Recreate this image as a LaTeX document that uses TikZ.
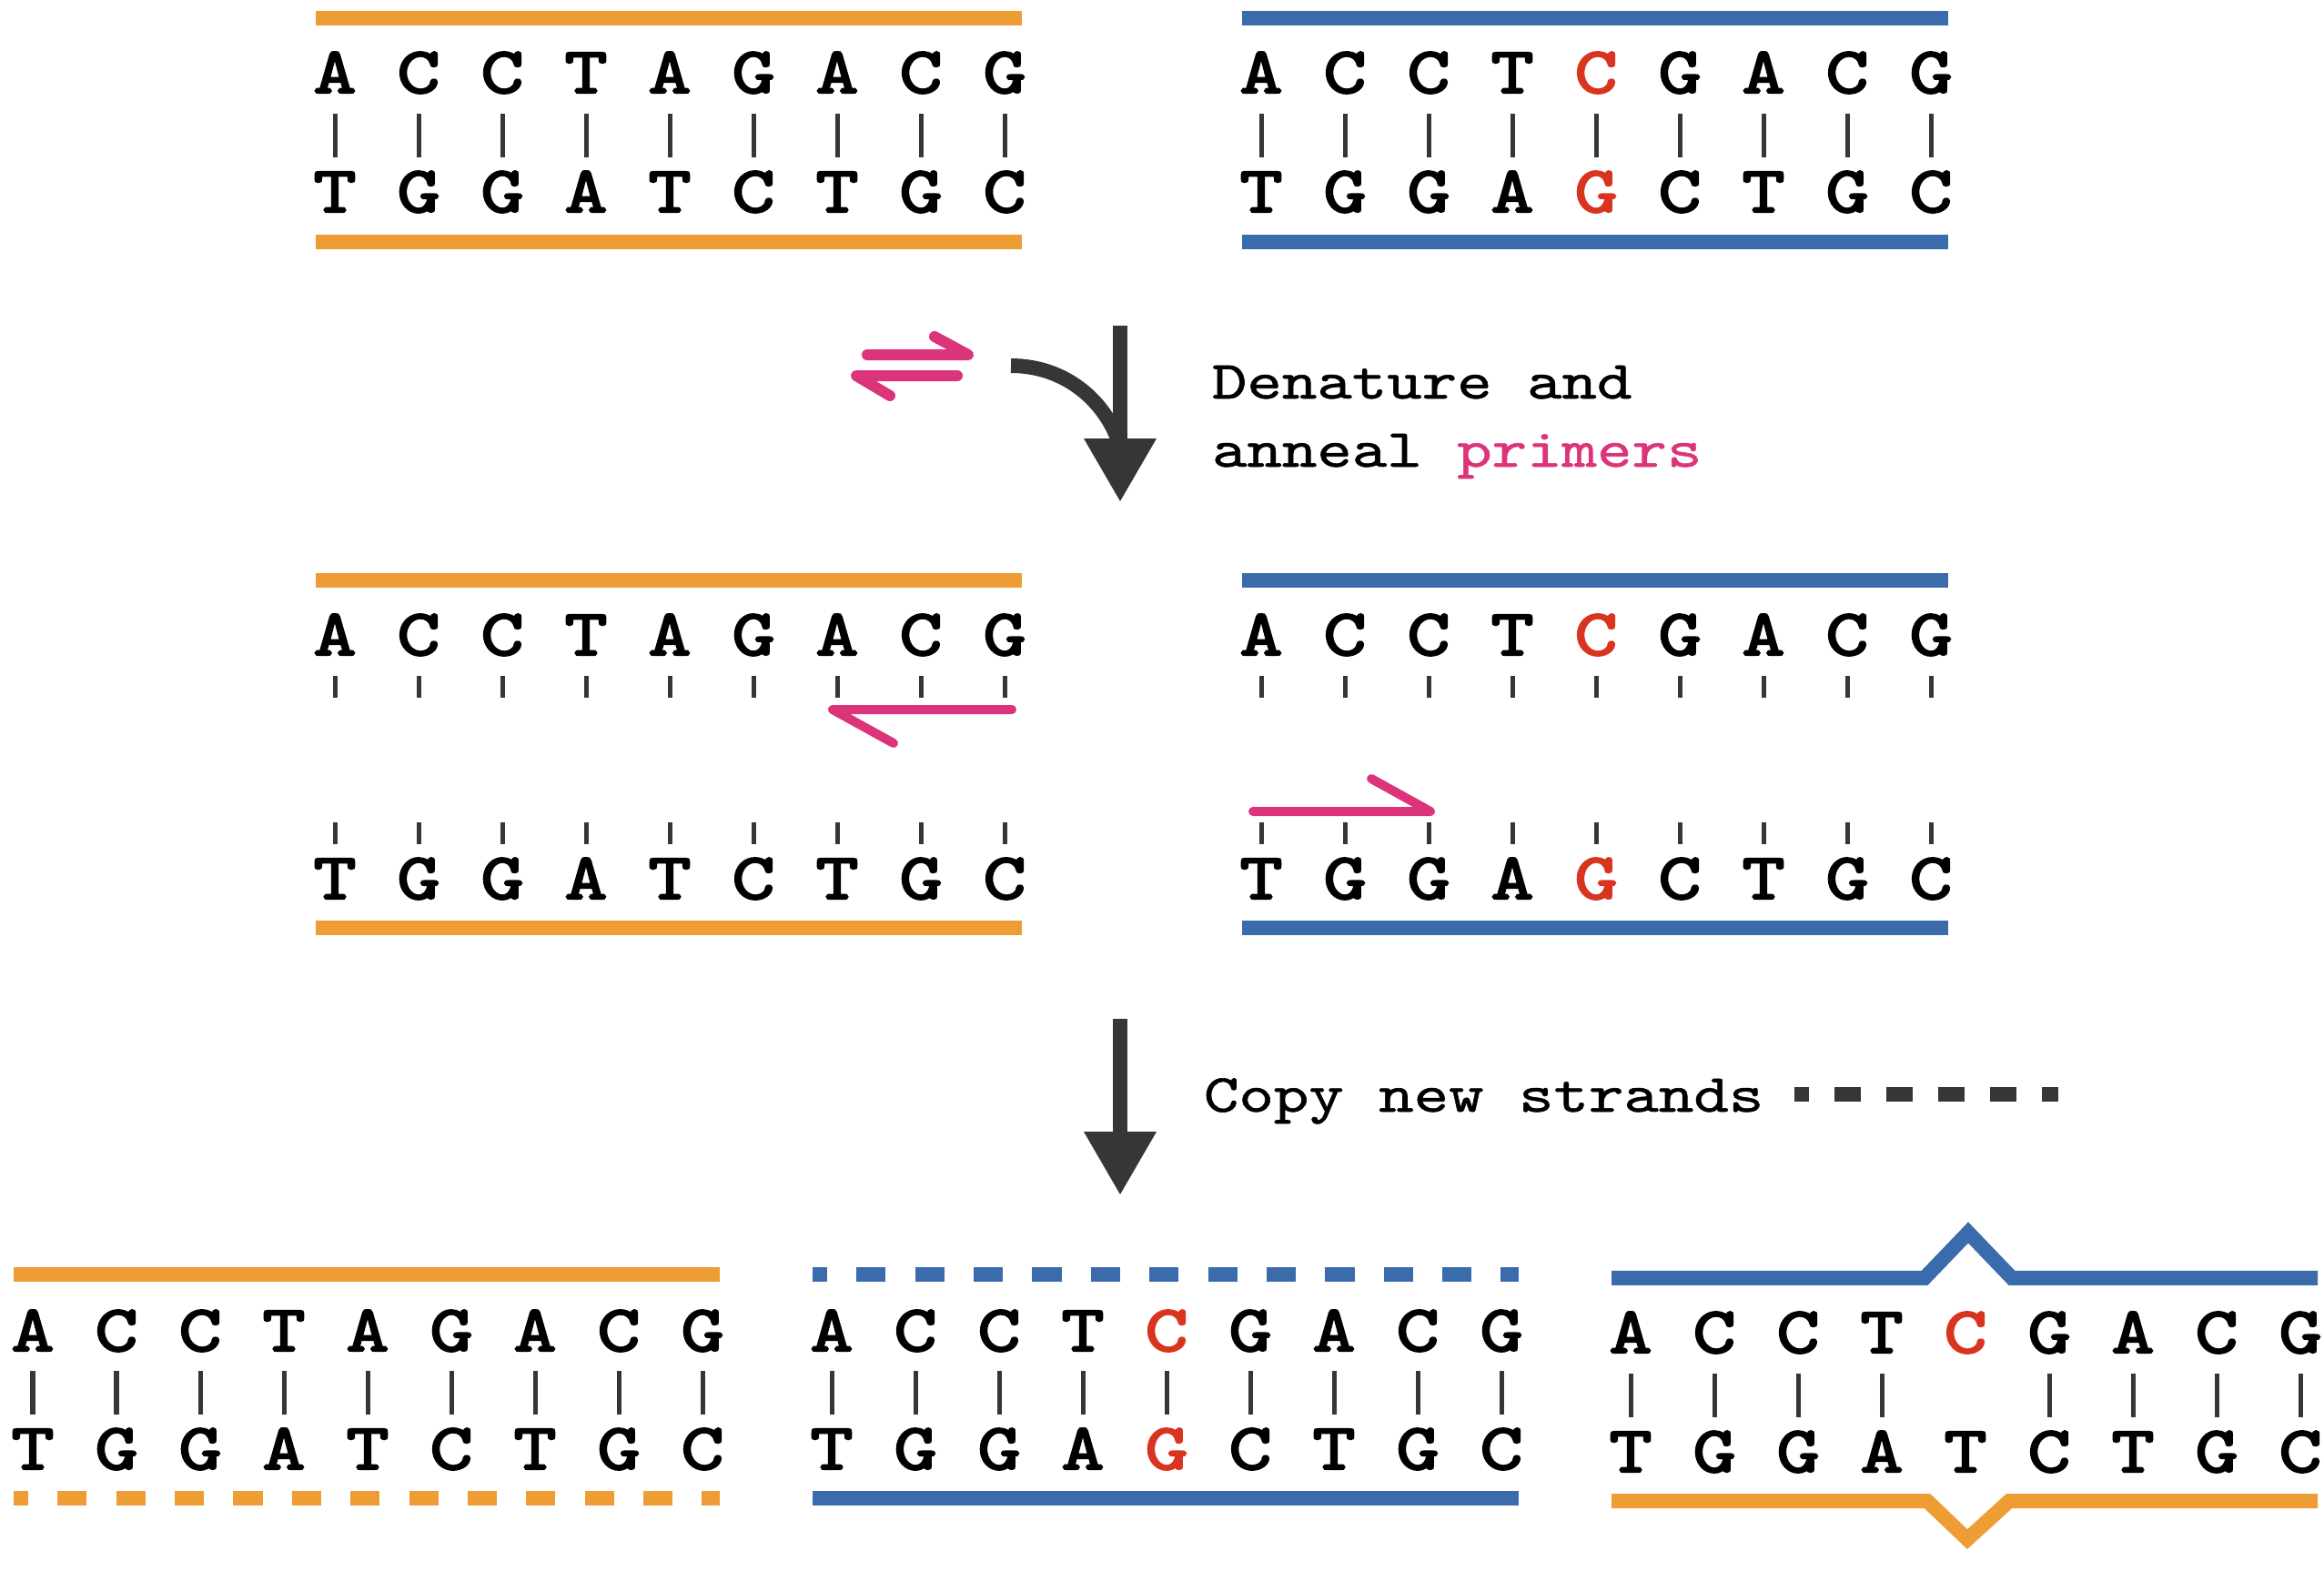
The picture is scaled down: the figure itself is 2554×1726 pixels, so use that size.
\documentclass[tikz,border=0pt]{standalone}
\usepackage{fontspec}
\newfontfamily\dnafont[FakeStretch=1.25,FakeBold=3]{lmmono10-regular.otf}
\newfontfamily\lblfont[FakeStretch=1.24,FakeBold=1]{lmmono10-regular.otf}
\definecolor{strandorange}{RGB}{238,157,52}
\definecolor{strandblue}{RGB}{58,108,172}
\definecolor{primerpink}{RGB}{219,52,123}
\definecolor{mutred}{RGB}{216,52,31}
\definecolor{arrowdark}{RGB}{54,54,54}
\tikzset{
  nuc/.style={inner sep=0pt, outer sep=0pt, anchor=base, font=\dnafont\fontsize{20.5}{20.5}\selectfont},
  lbl/.style={inner sep=0pt, outer sep=0pt, anchor=base west, font=\lblfont\fontsize{16.8}{20}\selectfont},
  bond/.style={line width=0.05cm, draw=arrowdark},
  strand/.style={line width=0.16cm},
  newstrand/.style={line width=0.16cm, dash pattern=on 0.3217cm off 0.3217cm, dash phase=0.1608cm},
  primer/.style={line width=0.1cm, draw=primerpink, line cap=round, line join=round},
  harpoon/.style={line width=0.12cm, draw=primerpink, line cap=round, line join=round},
  bigarrow/.style={line width=0.16cm, draw=arrowdark},
  bighead/.style={fill=arrowdark},
}
% #1 name prefix, #2 x of first letter, #3 top baseline, #4 bottom baseline, #5 top list, #6 bottom list
\newcommand\dnapair[6]{%
  \foreach \ltr/\col [count=\i from 0] in #5
    {\node[nuc,text=\col] (#1t\i) at ({#2+92*\i},#3) {\ltr};}
  \foreach \ltr/\col [count=\i from 0] in #6
    {\node[nuc,text=\col] (#1b\i) at ({#2+92*\i},#4) {\ltr};}
}
\def\otop{A/black,C/black,C/black,T/black,A/black,G/black,A/black,C/black,G/black}
\def\obot{T/black,G/black,G/black,A/black,T/black,C/black,T/black,G/black,C/black}
\def\btop{A/black,C/black,C/black,T/black,C/mutred,G/black,A/black,C/black,G/black}
\def\bbot{T/black,G/black,G/black,A/black,G/mutred,C/black,T/black,G/black,C/black}
\begin{document}
\begin{tikzpicture}[x=0.01cm,y=-0.01cm]
\useasboundingbox (0,0) rectangle (2554,1726);

% ================= row 1 =================
\dnapair{TL}{368}{102}{233}{\otop}{\obot}
\dnapair{TR}{1386}{102}{233}{\btop}{\bbot}
\foreach \p in {TL,TR}{
  \foreach \i in {0,...,8}
    \draw[bond] ([yshift=-0.23cm]\p t\i.base) -- ([yshift=0.6cm]\p b\i.base);
}
\draw[strand,strandorange] ([xshift=-0.21cm,yshift=0.82cm]TLt0.base) -- ([xshift=0.19cm,yshift=0.82cm]TLt8.base);
\draw[strand,strandorange] ([xshift=-0.21cm,yshift=-0.33cm]TLb0.base) -- ([xshift=0.19cm,yshift=-0.33cm]TLb8.base);
\draw[strand,strandblue] ([xshift=-0.21cm,yshift=0.82cm]TRt0.base) -- ([xshift=0.19cm,yshift=0.82cm]TRt8.base);
\draw[strand,strandblue] ([xshift=-0.21cm,yshift=-0.33cm]TRb0.base) -- ([xshift=0.19cm,yshift=-0.33cm]TRb8.base);

% ================= step 1 =================
\coordinate (h1a) at (953,390);
\coordinate (h1b) at (1064,390);
\coordinate (h1c) at (1027,370);
\coordinate (h2a) at (1052,413);
\coordinate (h2b) at (941,413);
\coordinate (h2c) at (978,435);
\draw[harpoon] (h1a) -- (h1b) -- (h1c);
\draw[harpoon] (h2a) -- (h2b) -- (h2c);

\coordinate (s1top) at (1231,358);
\coordinate (s1end) at (1231,490);
\coordinate (c1start) at (1111,402);
\draw[bigarrow] (s1top) -- (s1end);
\draw[bigarrow] (c1start) .. controls (1170,402) and (1215,440) .. (s1end);
\fill[bighead] (1191,482) -- (1271,482) -- (1231,551) -- cycle;

\node[lbl] (den1) at (1332,438) {Denature and};
\node[lbl] (den2) at (1332,513) {anneal \textcolor{primerpink}{primers}};

% ================= row 2 =================
\dnapair{ML}{368}{720}{988}{\otop}{\obot}
\dnapair{MR}{1386}{720}{988}{\btop}{\bbot}
\foreach \p in {ML,MR}{
  \foreach \i in {0,...,8}{
    \draw[bond] ([yshift=-0.23cm]\p t\i.base) -- ++(0,24);
    \draw[bond] ([yshift=0.6cm]\p b\i.base) -- ++(0,-24);
  }
}
\draw[strand,strandorange] ([xshift=-0.21cm,yshift=0.82cm]MLt0.base) -- ([xshift=0.19cm,yshift=0.82cm]MLt8.base);
\draw[strand,strandorange] ([xshift=-0.21cm,yshift=-0.32cm]MLb0.base) -- ([xshift=0.19cm,yshift=-0.32cm]MLb8.base);
\draw[strand,strandblue] ([xshift=-0.21cm,yshift=0.82cm]MRt0.base) -- ([xshift=0.19cm,yshift=0.82cm]MRt8.base);
\draw[strand,strandblue] ([xshift=-0.21cm,yshift=-0.32cm]MRb0.base) -- ([xshift=0.19cm,yshift=-0.32cm]MRb8.base);

% primers
\coordinate (p1a) at (1112,780);
\coordinate (p1b) at (915,780);
\coordinate (p1c) at (982,817);
\draw[primer] (p1a) -- (p1b) -- (p1c);
\coordinate (p2a) at (1377,892);
\coordinate (p2b) at (1572,892);
\coordinate (p2c) at (1507,856);
\draw[primer] (p2a) -- (p2b) -- (p2c);

% ================= step 2 =================
\coordinate (s2top) at (1231,1120);
\coordinate (s2end) at (1231,1250);
\draw[bigarrow] (s2top) -- (s2end);
\fill[bighead] (1191,1244) -- (1271,1244) -- (1231,1313) -- cycle;
\node[lbl] (copy) at (1323,1222) {Copy new strands};
\coordinate (lgA) at (1972,1203);
\coordinate (lgB) at (2262,1203);
\draw[line width=0.16cm, arrowdark, dash pattern=on 0.29cm off 0.28cm, dash phase=0.13cm] (lgA) -- (lgB);

% ================= row 3 =================
\dnapair{BL}{36}{1485}{1615}{\otop}{\obot}
\dnapair{BM}{914}{1485}{1615}{\btop}{\bbot}
\dnapair{BR}{1792}{1487}{1618}{\btop}{\obot}
\foreach \p in {BL,BM}{
  \foreach \i in {0,...,8}
    \draw[bond] ([yshift=-0.22cm]\p t\i.base) -- ([yshift=0.6cm]\p b\i.base);
}
\foreach \i in {0,1,2,3,5,6,7,8}
  \draw[bond] ([yshift=-0.23cm]BRt\i.base) -- ([yshift=0.6cm]BRb\i.base);

\draw[strand,strandorange] ([xshift=-0.21cm,yshift=0.84cm]BLt0.base) -- ([xshift=0.19cm,yshift=0.84cm]BLt8.base);
\draw[newstrand,strandorange] ([xshift=-0.21cm,yshift=-0.32cm]BLb0.base) -- ([xshift=0.19cm,yshift=-0.32cm]BLb8.base);
\draw[newstrand,strandblue] ([xshift=-0.21cm,yshift=0.84cm]BMt0.base) -- ([xshift=0.19cm,yshift=0.84cm]BMt8.base);
\draw[strand,strandblue] ([xshift=-0.21cm,yshift=-0.32cm]BMb0.base) -- ([xshift=0.19cm,yshift=-0.32cm]BMb8.base);

\draw[strand,strandblue,line join=miter] ([xshift=-0.21cm,yshift=0.82cm]BRt0.base)
  -- ([xshift=-0.45cm,yshift=0.82cm]BRt4.base)
  -- ([xshift=0.03cm,yshift=1.32cm]BRt4.base)
  -- ([xshift=0.51cm,yshift=0.82cm]BRt4.base)
  -- ([xshift=0.19cm,yshift=0.82cm]BRt8.base);
\draw[strand,strandorange,line join=miter] ([xshift=-0.21cm,yshift=-0.32cm]BRb0.base)
  -- ([xshift=-0.42cm,yshift=-0.32cm]BRb4.base)
  -- ([xshift=0.02cm,yshift=-0.74cm]BRb4.base)
  -- ([xshift=0.48cm,yshift=-0.32cm]BRb4.base)
  -- ([xshift=0.19cm,yshift=-0.32cm]BRb8.base);
\end{tikzpicture}
\end{document}
